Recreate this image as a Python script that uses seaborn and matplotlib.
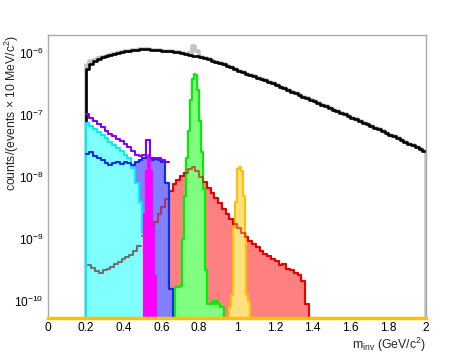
import numpy as np
import matplotlib
matplotlib.use("Agg")
import matplotlib.pyplot as plt
import matplotlib.ticker as mticker
import seaborn as sns

# values, stored as log10(counts); EMPTY marks an empty bin
EMPTY = -np.inf

# total (black) and total incl. omega (light gray), 20 MeV bins from 0.18
total_start, total_width = 0.18, 0.02
total_log = [EMPTY,
             -6.25, -6.17, -6.12, -6.09, -6.07, -6.05, -6.03, -6.01, -6.00, -5.98,
             -5.97, -5.96, -5.95, -5.945, -5.94, -5.94, -5.94, -5.945, -5.95, -5.95,
             -5.96, -5.965, -5.97, -5.98, -5.99, -6.00, -6.01, -6.03, -6.04, -6.05,
             -6.07, -6.08, -6.10, -6.12, -6.14, -6.16, -6.18, -6.21, -6.23, -6.26,
             -6.29, -6.31, -6.33, -6.35, -6.37, -6.40, -6.42, -6.44, -6.46, -6.49,
             -6.51, -6.54, -6.57, -6.59, -6.62, -6.65, -6.68, -6.71, -6.73, -6.76,
             -6.78, -6.81, -6.83, -6.86, -6.88, -6.91, -6.94, -6.96, -6.99, -7.01,
             -7.04, -7.07, -7.09, -7.12, -7.15, -7.18, -7.21, -7.23, -7.26, -7.29,
             -7.32, -7.34, -7.37, -7.40, -7.43, -7.46, -7.49, -7.51, -7.54, -7.58]
gray_log = [EMPTY,
            -6.19, -6.13, -6.11, -6.08, -6.07, -6.05, -6.03, -6.01, -6.00, -5.98,
            -5.97, -5.96, -5.95, -5.945, -5.94, -5.94, -5.94, -5.945, -5.95, -5.95,
            -5.96, -5.965, -5.97, -5.98, -5.99, -6.00, -6.01, -6.00, -5.88, -5.97,
            -6.07, -6.08, -6.10, -6.12, -6.14, -6.16, -6.18, -6.21, -6.23, -6.26,
            -6.29, -6.31, -6.33, -6.35, -6.37, -6.40, -6.42, -6.44, -6.46, -6.49,
            -6.51, -6.54, -6.57, -6.59, -6.62, -6.65, -6.68, -6.71, -6.73, -6.76,
            -6.78, -6.81, -6.83, -6.86, -6.88, -6.91, -6.94, -6.96, -6.99, -7.01,
            -7.04, -7.07, -7.09, -7.12, -7.15, -7.18, -7.21, -7.23, -7.26, -7.29,
            -7.32, -7.34, -7.37, -7.40, -7.43, -7.46, -7.49, -7.51, -7.54, -7.58,
            EMPTY]

# cocktail sum (violet line)
sum_start, sum_width = 0.20, 0.02
sum_log = [-6.98, -7.05, -7.10, -7.15, -7.20, -7.25, -7.30, -7.34, -7.38, -7.42,
           -7.47, -7.52, -7.58, -7.64, -7.66, -7.64, -7.40, -7.70, -7.69, -7.70,
           -7.73, -7.75]

# eta Dalitz (cyan)
eta_start, eta_width = 0.20, 0.02
eta_log = [-7.12, -7.17, -7.22, -7.27, -7.32, -7.37, -7.43, -7.48, -7.53, -7.58,
           -7.64, -7.70, -7.85, -8.10, -8.40, -8.90]

# omega Dalitz (blue)
omd_start, omd_width = 0.20, 0.02
omd_log = [-7.62, -7.60, -7.66, -7.70, -7.73, -7.78, -7.80, -7.77, -7.76, -7.79,
           -7.76, -7.78, -7.80, -7.76, -7.72, -7.70, -7.68, -7.72, -7.71, -7.72,
           -7.75, -8.10, -9.80]

# low-mass dark gray line
low_start, low_width = 0.21, 0.02
low_log = [-9.42, -9.47, -9.52, -9.55, -9.50, -9.48, -9.45, -9.41, -9.37, -9.33,
           -9.29, -9.25, -9.20, -9.12]

# eta -> ee (magenta), 10 MeV bins
etaee_start, etaee_width = 0.51, 0.01
etaee_log = [-8.6, -7.9, -7.65, -7.9, -8.8, -9.6]

# rho (red)
rho_start, rho_width = 0.50, 0.02
rho_log = [-8.95, -8.88, -8.80, -8.72, -8.60, -8.48, -8.35, -8.22, -8.12, -8.05,
           -7.98, -7.93, -7.87, -7.84, -7.90, -8.00, -8.08, -8.17, -8.26, -8.34,
           -8.42, -8.52, -8.60, -8.67, -8.75, -8.82, -8.90, -8.97, -9.03, -9.08,
           -9.13, -9.20, -9.24, -9.27, -9.33, -9.36, -9.42, -9.40, -9.48, -9.50,
           -9.55, -9.58, -9.68, -10.05]

# omega -> ee (green), 10 MeV bins
om_start, om_width = 0.67, 0.01
om_log = [-9.78, -9.78, -9.78, -9.75, -9.0, -8.3, -7.7, -7.25, -6.75, -6.42,
          -6.33, -6.36, -6.6, -7.1, -7.6, -8.2, -9.5, -10.05, -10.05, -10.05,
          -10.0, -10.05, -10.0, -10.05, -10.1, -10.1]

# phi -> ee (yellow), 10 MeV bins
phi_start, phi_width = 0.96, 0.01
phi_log = [-10.1, -9.9, -8.8, -8.4, -7.87, -7.84, -7.9, -8.3, -8.9, -9.9, -10.0]


def hist(ax, start, width, logvals, **kws):
    vals = 10.0 ** np.asarray(logvals, dtype=float)
    n = len(vals)
    centers = start + width * (np.arange(n) + 0.5)
    sns.histplot(x=list(centers), weights=list(vals), bins=n,
                 binrange=(start, start + width * n), element="step", ax=ax, **kws)


sns.set_style("white")
plt.rcParams["font.family"] = ["Liberation Sans", "DejaVu Sans"]
plt.rcParams["mathtext.default"] = "regular"

fig = plt.figure(figsize=(4.74, 3.55), dpi=100)
ax = fig.add_axes([0.101, 0.104, 0.798, 0.797])
ax.set_yscale("log")

LW = 1.5
hist(ax, total_start, total_width, gray_log, fill=False, color="#c4c4c4", lw=2.6, zorder=2)
hist(ax, total_start, total_width, total_log, fill=False, color="black", lw=1.9, zorder=2.5)
hist(ax, rho_start, rho_width, rho_log, fill=True, color="#ff0000",
     facecolor="#ff8080", lw=LW, zorder=3)
hist(ax, omd_start, omd_width, omd_log, fill=True, color="#1030e0",
     facecolor="#8080ff", lw=LW, zorder=4)
hist(ax, eta_start, eta_width, eta_log, fill=True, color="#00f0f0",
     facecolor="#80ffff", lw=LW, zorder=5)
hist(ax, om_start, om_width, om_log, fill=True, color="#00ee00",
     facecolor="#80ff80", lw=LW, zorder=6)
hist(ax, phi_start, phi_width, phi_log, fill=True, color="#ffc000",
     facecolor="#ffe080", lw=LW, zorder=7)
hist(ax, rho_start, rho_width, rho_log, fill=False, color="#d00000", alpha=0.6,
     lw=LW, zorder=8)
hist(ax, omd_start, omd_width, omd_log, fill=False, color="#1030e0", lw=LW, zorder=9)
hist(ax, etaee_start, etaee_width, etaee_log, fill=True, color="#ff00ff",
     facecolor="#ff00ff", lw=LW, zorder=10)
hist(ax, sum_start, sum_width, sum_log, fill=False, color="#8000ff", lw=LW, zorder=11)
hist(ax, low_start, low_width, low_log, fill=False, color="#707070", lw=LW, zorder=12)

ax.set_xlim(0, 2)
ax.set_ylim(5.3e-11, 1.95e-6)

ax.xaxis.set_major_locator(mticker.MultipleLocator(0.2))
ax.xaxis.set_minor_locator(mticker.MultipleLocator(0.05))
ax.xaxis.set_major_formatter(mticker.FuncFormatter(lambda v, p: "%g" % round(v, 2)))
ax.yaxis.set_major_locator(mticker.LogLocator(base=10))
ax.yaxis.set_minor_locator(mticker.LogLocator(base=10, subs=np.arange(2, 10)))
ax.yaxis.set_minor_formatter(mticker.NullFormatter())

ax.tick_params(which="both", direction="in", colors="#999999", labelcolor="black",
               labelsize=8.6, top=False, right=False)
ax.tick_params(which="major", length=8, width=0.8, pad=3)
ax.tick_params(which="minor", length=4, width=0.8)

for side in ["left", "top", "right"]:
    ax.spines[side].set_color("#aaaaaa")
    ax.spines[side].set_linewidth(1)
ax.spines["bottom"].set_color("#ffc000")
ax.spines["bottom"].set_linewidth(2.5)
ax.spines["bottom"].set_zorder(20)

ax.set_ylabel("counts/(events \u00d7 10 MeV/c$^{2}$)", fontsize=8.8, loc="top")
ax.yaxis.set_label_coords(-0.072, 1.0)
ax.set_xlabel("m$_{inv}$ (GeV/c$^{2}$)", fontsize=8.8, loc="right", labelpad=1)

fig.savefig("out.png", dpi=100)
